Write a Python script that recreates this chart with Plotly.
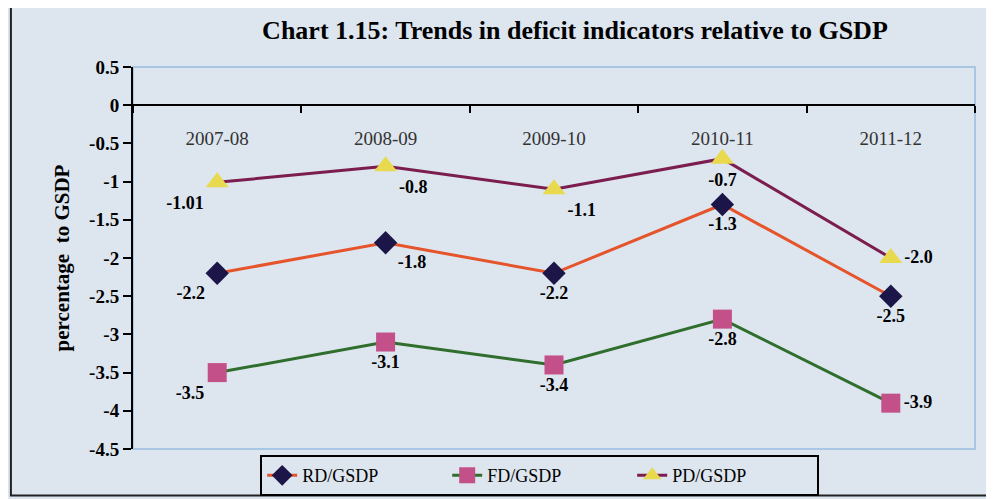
import plotly.graph_objects as go

# DATA
years = ["2007-08", "2008-09", "2009-10", "2010-11", "2011-12"]
rd_gsdp = [-2.2, -1.8, -2.2, -1.3, -2.5]
fd_gsdp = [-3.5, -3.1, -3.4, -2.8, -3.9]
pd_gsdp = [-1.01, -0.8, -1.1, -0.7, -2.0]
rd_text = ["-2.2", "-1.8", "-2.2", "-1.3", "-2.5"]
fd_text = ["-3.5", "-3.1", "-3.4", "-2.8", "-3.9"]
pd_text = ["-1.01", "-0.8", "-1.1", "-0.7", "-2.0"]
y_ticks = [0.5, 0, -0.5, -1, -1.5, -2, -2.5, -3, -3.5, -4, -4.5]
y_ticktext = ["0.5", "0", "-0.5", "-1", "-1.5", "-2", "-2.5", "-3", "-3.5", "-4", "-4.5"]

SERIF = "Liberation Serif"
BG = "#dde5ef"
label_font = dict(family=SERIF, size=18, color="black", weight="bold")

fig = go.Figure()

fig.add_trace(go.Scatter(
    x=years, y=rd_gsdp, name="RD/GSDP", mode="lines+markers+text",
    line=dict(color="#e5542b", width=3),
    marker=dict(symbol="diamond", size=18, color="#1c1548"),
    text=rd_text,
    textposition=["bottom left", "bottom right", "bottom center", "bottom center", "bottom center"],
    textfont=label_font,
))
fig.add_trace(go.Scatter(
    x=years, y=fd_gsdp, name="FD/GSDP", mode="lines+markers+text",
    line=dict(color="#2f6e2c", width=3),
    marker=dict(symbol="square", size=19, color="#c4508a"),
    text=fd_text,
    textposition=["bottom left", "bottom center", "bottom center", "bottom center", "middle right"],
    textfont=label_font,
))
fig.add_trace(go.Scatter(
    x=years, y=pd_gsdp, name="PD/GSDP", mode="lines+markers+text",
    line=dict(color="#7b1d4e", width=3),
    marker=dict(symbol="triangle-up", size=20, color="#e8d94e"),
    text=pd_text,
    textposition=["bottom left", "bottom right", "bottom right", "bottom center", "middle right"],
    textfont=label_font,
))

# the page body has an 8px margin, so the figure is shifted by that much;
# it is also made taller than the window so the legend does not push the plot up
fig.update_layout(
    width=986, height=520,
    margin=dict(l=125, r=19, t=59, b=79),
    paper_bgcolor=BG, plot_bgcolor=BG,
    font=dict(family=SERIF, size=18, color="black"),
    title=dict(
        text="<b>Chart 1.15: Trends in deficit indicators relative to GSDP</b>",
        x=0.575, xanchor="center", y=0.958, yanchor="middle",
        font=dict(family=SERIF, size=26, color="black"),
    ),
    xaxis=dict(
        type="category", range=[-0.5, 4.5], automargin=False,
        anchor="free", position=0.9,
        showline=True, linecolor="black", linewidth=2,
        ticks="outside", ticklen=7, tickcolor="black", tickwidth=2,
        tickson="boundaries", showgrid=False, zeroline=False,
        ticklabelstandoff=16,
        tickfont=dict(family=SERIF, size=19, color="#333333"),
    ),
    yaxis=dict(
        range=[-4.5, 0.5], tickvals=y_ticks, ticktext=y_ticktext, automargin=False,
        showline=True, linecolor="black", linewidth=2,
        ticks="outside", ticklen=8, tickcolor="black", tickwidth=2,
        showgrid=False, zeroline=False,
        tickfont=dict(family=SERIF, size=19, color="black", weight="bold"),
        title=dict(text="<b>percentage  to GSDP</b>", standoff=14,
                   font=dict(family=SERIF, size=21, color="black")),
    ),
    legend=dict(
        orientation="h", x=0.483, xanchor="center", y=-0.016, yanchor="top",
        bordercolor="black", borderwidth=2, bgcolor=BG,
        font=dict(family=SERIF, size=18, color="black"),
        entrywidth=140,
    ),
    shapes=[
        # plot area border
        dict(type="rect", xref="paper", yref="paper", x0=0, y0=0, x1=1, y1=1,
             line=dict(color="#a9c6e4", width=2), layer="below"),
        # outer chart frame
        dict(type="rect", xref="paper", yref="paper",
             x0=-0.145, y0=-0.122, x1=1.017, y1=1.158,
             line=dict(color="#222222", width=2)),
    ],
)

fig.write_html("out.html")
